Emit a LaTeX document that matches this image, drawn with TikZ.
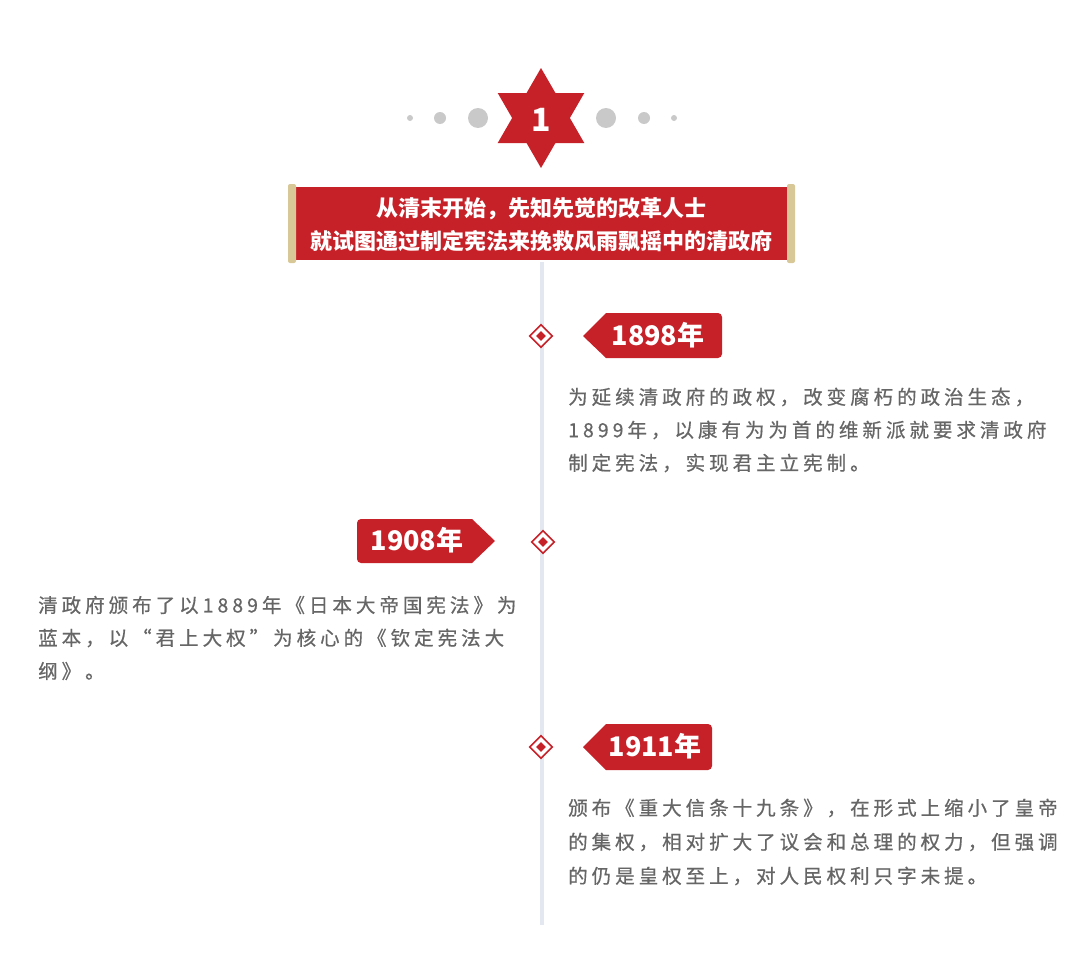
\documentclass[tikz,border=0pt]{standalone}
\usepackage{fontspec}
\setmainfont{Noto Sans CJK SC}
\newfontfamily\cjk{Noto Sans CJK SC}
\newfontfamily\cjkbody[LetterSpace=20.5,FakeBold=0.6]{Noto Sans CJK SC}
\definecolor{myred}{HTML}{C62128}
\definecolor{mygray}{HTML}{666666}
\definecolor{dotgray}{HTML}{C9C9C9}
\definecolor{linegray}{HTML}{E3E7EF}
\definecolor{beige}{HTML}{D8C898}
\tikzset{
  body/.style={anchor=west, inner sep=0pt, text=mygray, font=\cjkbody\fontsize{19.5}{19.5}\selectfont},
  tagtext/.style={inner sep=0pt, text=white, font=\cjk\bfseries\fontsize{27}{27}\selectfont},
  dot/.style={circle, fill=dotgray, inner sep=0pt},
  diam/.style={diamond, draw=myred, line width=1.6pt, minimum size=23pt, inner sep=0pt, fill=white},
  diamin/.style={diamond, fill=myred, minimum size=10pt, inner sep=0pt},
}
\usetikzlibrary{shapes.geometric}
\begin{document}
\begin{tikzpicture}[x=1pt,y=-1pt]
\useasboundingbox[fill=white] (0,0) rectangle (1080,969);
% timeline
\coordinate (ltop) at (542,262);
\coordinate (lbot) at (542,925);
\draw[linegray, line width=3.5pt] (ltop) -- (lbot);
% dots
\node[dot, minimum size=6pt] (d1) at (410,118) {};
\node[dot, minimum size=12pt] (d2) at (440,118) {};
\node[dot, minimum size=20pt] (d3) at (478,118) {};
\node[dot, minimum size=20pt] (d4) at (606,118) {};
\node[dot, minimum size=12pt] (d5) at (644,118) {};
\node[dot, minimum size=6pt] (d6) at (674,118) {};
% star
\fill[myred] (541,68) -- (541+14.43,118-25) -- (541+43.3,118-25) -- (541+28.87,118)
  -- (541+43.3,118+25) -- (541+14.43,118+25) -- (541,168) -- (541-14.43,118+25)
  -- (541-43.3,118+25) -- (541-28.87,118) -- (541-43.3,118-25) -- (541-14.43,118-25) -- cycle;
\node[text=white, font=\cjk\bfseries\fontsize{32}{32}\selectfont, inner sep=0pt] (num) at (541,120) {1};
% banner
\fill[myred] (293,187) rectangle (790,260);
\fill[beige, rounded corners=2pt] (288,184) rectangle (296,263);
\fill[beige, rounded corners=2pt] (787,184) rectangle (795,263);
\node[text=white, font=\cjk\bfseries\fontsize{22}{33}\selectfont, align=center, inner sep=0pt] (banner) at (541.5,225)
 {从清末开始，先知先觉的改革人士\\就试图通过制定宪法来挽救风雨飘摇中的清政府};
% 1898
\node[diam] (m1) at (541,336) {};
\node[diamin] at (m1) {};
\fill[myred] (583,336) -- (606,313) [rounded corners=4pt] -- (722,313) -- (722,358) [sharp corners] -- (606,358) -- cycle;
\node[tagtext] (t1) at (658,335) {1898年};
\node[body] (b1a) at (568,397) {为延续清政府的政权，改变腐朽的政治生态，};
\node[body] (b1b) at (568,430) {1899年，以康有为为首的维新派就要求清政府};
\node[body] (b1c) at (568,463) {制定宪法，实现君主立宪制。};
% 1908
\node[diam] (m2) at (543,542) {};
\node[diamin] at (m2) {};
\fill[myred] (495,541) -- (472,519) [rounded corners=4pt] -- (357,519) -- (357,563) [sharp corners] -- (472,563) -- cycle;
\node[tagtext] (t2) at (417,540) {1908年};
\node[body] (b2a) at (38,605) {清政府颁布了以1889年《日本大帝国宪法》为};
\node[body] (b2b) at (38,638) {蓝本，以“君上大权”为核心的《钦定宪法大};
\node[body] (b2c) at (38,671) {纲》。};
% 1911
\node[diam] (m3) at (541,747) {};
\node[diamin] at (m3) {};
\fill[myred] (583,747) -- (606,724) [rounded corners=4pt] -- (712,724) -- (712,770) [sharp corners] -- (606,770) -- cycle;
\node[tagtext] (t3) at (655,746) {1911年};
\node[body] (b3a) at (568,808) {颁布《重大信条十九条》，在形式上缩小了皇帝};
\node[body] (b3b) at (568,842) {的集权，相对扩大了议会和总理的权力，但强调};
\node[body] (b3c) at (568,876) {的仍是皇权至上，对人民权利只字未提。};
\end{tikzpicture}
\end{document}
